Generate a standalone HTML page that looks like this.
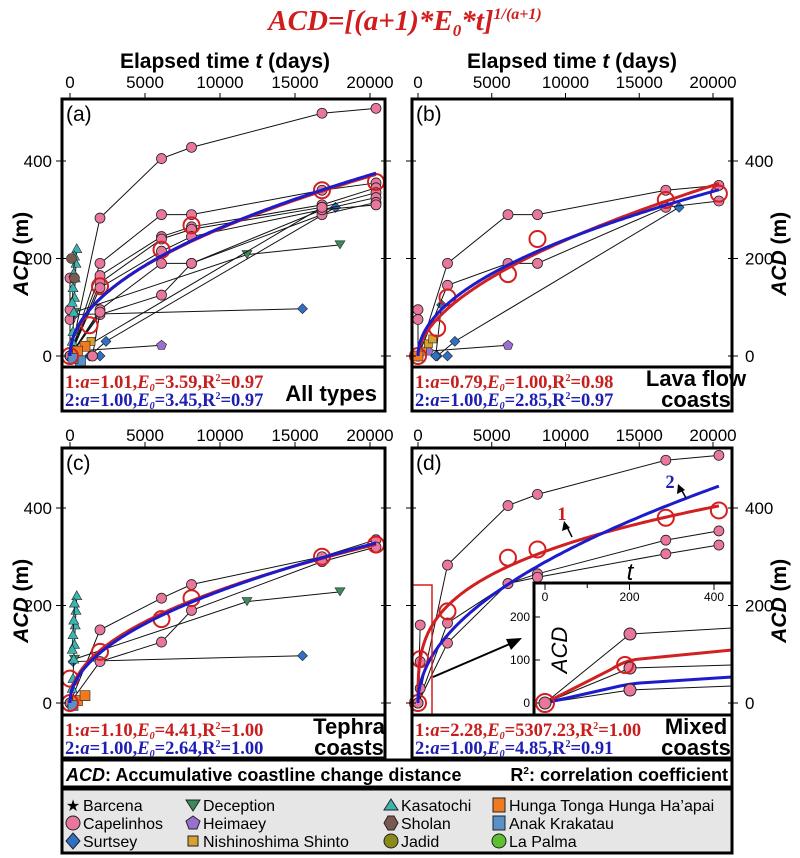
<!DOCTYPE html>
<html><head><meta charset="utf-8"><style>
body{margin:0;background:#fff;width:800px;height:858px;overflow:hidden}
svg{display:block}
text{font-family:"Liberation Sans",sans-serif}
.tk{font-size:17px}
.ser{font-family:"Liberation Serif",serif;font-weight:bold;font-size:18.5px}
</style></head><body>
<svg id="s" width="800" height="858" xmlns="http://www.w3.org/2000/svg">
<text x="405" y="30" text-anchor="middle" fill="#d01c1c" style="font-family:'Liberation Serif',serif;font-weight:bold;font-style:italic;font-size:29px">ACD=[(a+1)*E<tspan font-size="17" dy="6">0</tspan><tspan dy="-6">*t]</tspan><tspan font-size="16" dy="-11">1/(a+1)</tspan></text>
<text x="225" y="68" text-anchor="middle" font-weight="bold" font-size="21">Elapsed time <tspan font-style="italic">t</tspan> (days)</text>
<text x="572" y="68" text-anchor="middle" font-weight="bold" font-size="21">Elapsed time <tspan font-style="italic">t</tspan> (days)</text>
</svg>
<script>
const S=document.getElementById('s');const NS='http://www.w3.org/2000/svg';
function el(n,a,p){const e=document.createElementNS(NS,n);for(const k in a)e.setAttribute(k,a[k]);(p||S).appendChild(e);return e}
function tx(x,y,s,a,p){const e=el('text',Object.assign({x:x,y:y},a||{}),p);e.innerHTML=s;return e}
const P=[
{bx:62,br:385,t0:70,s:0.015,y0:356,top:99,pb:367,ab:411,L:1,lab:'(a)',tl:88},
{bx:412,br:732,t0:418,s:0.01475,y0:356,top:99,pb:367,ab:411,L:0,lab:'(b)',tl:88},
{bx:62,br:385,t0:70,s:0.015,y0:703,top:448,pb:715,ab:758,L:1,lab:'(c)',tl:441},
{bx:412,br:732,t0:418,s:0.01475,y0:703,top:448,pb:715,ab:758,L:0,lab:'(d)',tl:441}];
const T=[0,2000,6100,8100,16800,20400];
const PINK='#e9779c';
function mk(p,t,v,type){const x=p.t0+t*p.s,y=p.y0-v*0.4875;
 if(type=='c')el('circle',{cx:x,cy:y,r:5,fill:PINK,stroke:'#222','stroke-width':0.8});
 else if(type=='o')el('circle',{cx:x,cy:y,r:8,fill:'none',stroke:'#d51f1f','stroke-width':2});
 else if(type=='d')el('polygon',{points:`${x},${y-5} ${x+5},${y} ${x},${y+5} ${x-5},${y}`,fill:'#2f6fc4',stroke:'#222','stroke-width':0.6});
 else if(type=='t')el('polygon',{points:`${x-5},${y-4} ${x+5},${y-4} ${x},${y+4}`,fill:'#3a8a5a',stroke:'#222','stroke-width':0.6});
 else if(type=='k')el('polygon',{points:`${x},${y-5} ${x+5},${y+4} ${x-5},${y+4}`,fill:'#3bb5b0',stroke:'#222','stroke-width':0.6});
 else if(type=='h')el('polygon',{points:`${x},${y-5} ${x+5},${y-1} ${x+3},${y+4} ${x-3},${y+4} ${x-5},${y-1}`,fill:'#9b6fd0',stroke:'#222','stroke-width':0.6});
 else if(type=='s')el('rect',{x:x-4,y:y-4,width:8,height:8,fill:'#d9a030',stroke:'#222','stroke-width':0.6});
 else if(type=='q')el('rect',{x:x-5,y:y-5,width:10,height:10,fill:'#f07a20',stroke:'#222','stroke-width':0.6});
 else if(type=='b')el('rect',{x:x-5,y:y-5,width:10,height:10,fill:'#5a90c8',stroke:'#222','stroke-width':0.6});
 else if(type=='m')el('circle',{cx:x,cy:y,r:5,fill:'#7a5a50',stroke:'#222','stroke-width':0.6});
}
function line(p,pts,type,noline){if(!noline)el('polyline',{points:pts.map(q=>(p.t0+q[0]*p.s)+','+(p.y0-q[1]*0.4875)).join(' '),fill:'none',stroke:'#111','stroke-width':1});
 pts.forEach(q=>mk(p,q[0],q[1],type));}
function cap(p,vals,extra){const pts=[];vals.forEach((v,i)=>{if(v!=null)pts.push([T[i],v])});line(p,(extra||[]).concat(pts),'c');}
function curve(p,a,E,col,w){let d='';for(let i=0;i<=200;i++){const t=20400*Math.pow(i/200,2);const v=Math.pow((a+1)*E*t,1/(a+1));d+=(i?'L':'M')+(p.t0+t*p.s).toFixed(1)+','+(p.y0-v*0.4875).toFixed(1)}
 el('path',{d:d,fill:'none',stroke:col,'stroke-width':w||3});}
function kas(p){line(p,[[100,0],[150,30],[200,50],[250,90],[300,120],[350,160],[400,190],[450,220]],'k');
 line(p,[[150,110],[250,170],[300,205],[200,140]],'k');}
function frame(p,txt1,txt2,cat){
 el('rect',{x:p.bx,y:p.top,width:p.br-p.bx,height:p.ab-p.top,fill:'none',stroke:'#000','stroke-width':3});
 el('line',{x1:p.bx,x2:p.br,y1:p.pb,y2:p.pb,stroke:'#000','stroke-width':3});
 [0,5000,10000,15000,20000].forEach(t=>{const x=p.t0+t*p.s;el('line',{x1:x,x2:x,y1:p.top-6,y2:p.top,stroke:'#000'});tx(x,p.tl,t,{class:'tk','text-anchor':'middle'})});
 [0,200,400].forEach(v=>{const y=p.y0-v*0.4875;
  el('line',{x1:p.bx-6,x2:p.bx+4,y1:y,y2:y,stroke:'#000'});el('line',{x1:p.br-4,x2:p.br+6,y1:y,y2:y,stroke:'#000'});
  if(p.L)tx(52,y+6,v,{class:'tk','text-anchor':'end'});else tx(745,y+6,v,{class:'tk'});});
 const cy=p.y0-230*0.4875+10;
 const ax=p.L?28:786;
 tx(ax,cy,'<tspan font-style="italic">ACD</tspan> (m)',{'font-size':21,'font-weight':'bold','text-anchor':'middle',transform:`rotate(-90 ${ax} ${cy})`});
 tx(p.bx+4,p.top+22,p.lab,{'font-size':21});
 tx(p.bx+3,p.pb+21,txt1,{class:'ser',fill:'#c81e1e'});
 tx(p.bx+3,p.pb+39,txt2,{class:'ser',fill:'#1e1eb4'});
 if(cat.length==1)tx(p.br-8,p.pb+34,cat[0],{'font-size':22,'font-weight':'bold','text-anchor':'end'});
 else{tx(p.br-36,p.pb+19,cat[0],{'font-size':22,'font-weight':'bold','text-anchor':'middle'});tx(p.br-36,p.pb+40,cat[1],{'font-size':22,'font-weight':'bold','text-anchor':'middle'});}
}
const f1=(a,E,r)=>`1:<tspan font-style="italic">a</tspan>=${a},<tspan font-style="italic">E<tspan font-size="10" dy="3">0</tspan></tspan><tspan dy="-3">=${E},R</tspan><tspan font-size="10" dy="-7">2</tspan><tspan dy="7">=${r}</tspan>`;
const f2=(a,E,r)=>`2:<tspan font-style="italic">a</tspan>=${a},<tspan font-style="italic">E<tspan font-size="10" dy="3">0</tspan></tspan><tspan dy="-3">=${E},R</tspan><tspan font-size="10" dy="-7">2</tspan><tspan dy="7">=${r}</tspan>`;

// (a)
let p=P[0];
line(p,[[300,85],[15500,97]],'d');
line(p,[[1300,0],[2400,30],[17700,305]],'d');line(p,[[200,0],[2000,0]],'d');line(p,[[300,10],[6100,22]],'h');
line(p,[[300,90],[11800,208],[18000,228]],'t');
cap(p,[0,283,405,428,498,508]);cap(p,[0,190,290,290,340,355],[[0,160]]);cap(p,[0,165,245,265,310,345]);
cap(p,[0,150,240,260,305,335]);cap(p,[0,140,215,245,300,325],[[0,95]]);cap(p,[0,95,190,190,290,315]);
cap(p,[0,85,125,190,300,310],[[0,75]]);cap(p,[0,null,null,null,305,null],[[1500,0],[2000,90]]);
kas(p);line(p,[[100,200],[300,160]],'m',1);
line(p,[[500,10],[1000,20],[1400,30]],'s');mk(p,1000,20,'q');mk(p,500,10,'q');mk(p,700,-10,'b');mk(p,200,-5,'b');
[[0,0],[1300,63],[2000,143],[6100,218],[8100,268],[16800,340],[20400,357]].forEach(q=>mk(p,q[0],q[1],'o'));
curve(p,1.01,3.59,'#d02020',3);curve(p,1,3.45,'#1c1ccc',3);
frame(p,f1('1.01','3.59','0.97'),f2('1.00','3.45','0.97'),['All types']);
// (b)
p=P[1];
line(p,[[1300,0],[2500,30],[17700,305]],'d');line(p,[[1200,0],[1600,105]],'d');line(p,[[700,10],[6100,22]],'h');mk(p,2000,0,'d');
cap(p,[0,190,290,290,340,350],[[0,95]]);cap(p,[0,145,190,190,305,318],[[0,75]]);
line(p,[[300,10],[700,25],[1000,35]],'s');mk(p,0,0,'q');
[[0,0],[1300,57],[2000,120],[6100,168],[8100,240],[16800,320],[20400,333]].forEach(q=>mk(p,q[0],q[1],'o'));
curve(p,0.79,1.0,'#d02020',3);curve(p,1,2.85,'#1c1ccc',3);
frame(p,f1('0.79','1.00','0.98'),f2('1.00','2.85','0.97'),['Lava flow','coasts']);
// (c)
p=P[2];
line(p,[[200,85],[15500,97]],'d');line(p,[[300,90],[11800,208],[18000,228]],'t');
cap(p,[0,150,215,243,300,335]);cap(p,[0,85,125,190,290,320]);
kas(p);line(p,[[500,5],[1000,15]],'q');mk(p,200,-5,'b');
[[0,0],[0,50],[2000,105],[6100,172],[8100,215],[16800,300],[20400,325]].forEach(q=>mk(p,q[0],q[1],'o'));
curve(p,1.10,4.41,'#d02020',3);curve(p,1,2.64,'#1c1ccc',3);
frame(p,f1('1.10','4.41','1.00'),f2('1.00','2.64','1.00'),['Tephra','coasts']);
// (d)
p=P[3];
cap(p,[0,283,405,428,498,508],[[0,0],[150,160]]);cap(p,[0,164,245,265,334,353],[[150,85]]);cap(p,[0,123,245,258,306,324],[[150,30]]);
[[0,0],[150,90],[2000,188],[6100,298],[8100,315],[16800,380],[20400,395]].forEach(q=>mk(p,q[0],q[1],'o'));
curve(p,2.28,5307.23,'#d02020',3);curve(p,1,4.85,'#1c1ccc',3);
el('rect',{x:412,y:585,width:20,height:130,fill:'none',stroke:'#d02020','stroke-width':1.5});
// inset
el('rect',{x:534,y:583,width:198,height:132,fill:'#fff',stroke:'#000','stroke-width':3});
const IX=t=>545+t*0.4225,IY=v=>703-v*0.43;
[0,200,400].forEach(t=>{el('line',{x1:IX(t),x2:IX(t),y1:583,y2:590,stroke:'#000'});tx(IX(t),601,t,{'font-size':12,'text-anchor':'middle'})});
[100].forEach(t=>el('line',{x1:IX(t),x2:IX(t),y1:583,y2:588,stroke:'#000'}));
[0,100,200].forEach(v=>{el('line',{x1:534,x2:540,y1:IY(v),y2:IY(v),stroke:'#000'});tx(530,IY(v)+4,v,{'font-size':12,'text-anchor':'end'})});
el('polyline',{points:'545,703 630,634 732,628',fill:'none',stroke:'#111'});
el('polyline',{points:'545,703 630,668 732,665',fill:'none',stroke:'#111'});
el('polyline',{points:'545,703 630,690 732,686',fill:'none',stroke:'#111'});
el('path',{d:'M545,703 L610,670 Q625,660 640,659 L732,650',fill:'none',stroke:'#d02020','stroke-width':3});
el('path',{d:'M545,703 L620,686 Q630,684 640,683 L732,677',fill:'none',stroke:'#1c1ccc','stroke-width':3});
[[630,634],[630,668],[630,690],[545,703]].forEach(q=>el('circle',{cx:q[0],cy:q[1],r:6,fill:PINK,stroke:'#222'}));
el('circle',{cx:625,cy:665,r:8,fill:'none',stroke:'#d51f1f','stroke-width':2});el('circle',{cx:545,cy:703,r:9,fill:'none',stroke:'#d51f1f','stroke-width':2});
tx(552,665,'ACD',{'font-size':22,'font-style':'italic','text-anchor':'middle',transform:'rotate(-90 552 650)'});
tx(630,580,'t',{'font-size':24,'font-style':'italic','text-anchor':'middle'});
el('line',{x1:433,y1:677,x2:512,y2:643,stroke:'#000','stroke-width':2});el('polygon',{points:'522,638 506,639 511,650'});
tx(562,520,'1',{class:'ser','font-size':24,fill:'#c81e1e','text-anchor':'middle'});
el('line',{x1:572,y1:537,x2:567,y2:527,stroke:'#000','stroke-width':1.5});el('polygon',{points:'564,521 562,531 570,528'});
tx(670,488,'2',{class:'ser','font-size':24,fill:'#1e1eb4','text-anchor':'middle'});
el('line',{x1:686,y1:498,x2:681,y2:489,stroke:'#000','stroke-width':1.5});el('polygon',{points:'678,484 677,494 685,490'});
frame(p,f1('2.28','5307.23','1.00'),f2('1.00','4.85','0.91'),['Mixed','coasts']);
// bottom boxes
el('rect',{x:62,y:760,width:670,height:27,fill:'#fff',stroke:'#000','stroke-width':3});
tx(66,781,'<tspan font-style="italic">ACD</tspan>: Accumulative coastline change distance',{'font-size':18,'font-weight':'bold'});
tx(728,781,'R<tspan font-size="10" dy="-7">2</tspan><tspan dy="7">: correlation coefficient</tspan>',{'font-size':18,'font-weight':'bold','text-anchor':'end'});
el('rect',{x:62,y:789,width:670,height:64,fill:'#e6e6e6',stroke:'#000','stroke-width':3});
const LG=[[66,'Barcena','star'],[66,'Capelinhos','c'],[66,'Surtsey','d'],[186,'Deception','t'],[186,'Heimaey','h'],[186,'Nishinoshima Shinto','s'],[384,'Kasatochi','k'],[384,'Sholan','m'],[384,'Jadid','j'],[492,'Hunga Tonga Hunga Ha’apai','q'],[492,'Anak Krakatau','b'],[492,'La Palma','g']];
LG.forEach((l,i)=>{const y=[805,823,841][i%3];const x=l[0]+7;
 const t=l[2];
 if(t=='star')tx(x,y+6,'★',{'font-size':16,'text-anchor':'middle'});
 else if(t=='c')el('circle',{cx:x,cy:y,r:7,fill:PINK,stroke:'#222'});
 else if(t=='d')el('polygon',{points:`${x},${y-8} ${x+7},${y} ${x},${y+8} ${x-7},${y}`,fill:'#2f6fc4',stroke:'#222'});
 else if(t=='t')el('polygon',{points:`${x-7},${y-5} ${x+7},${y-5} ${x},${y+6}`,fill:'#3a8a5a',stroke:'#222'});
 else if(t=='k')el('polygon',{points:`${x},${y-6} ${x+7},${y+5} ${x-7},${y+5}`,fill:'#3bb5b0',stroke:'#222'});
 else if(t=='h')el('polygon',{points:`${x},${y-7} ${x+7},${y-2} ${x+4},${y+6} ${x-4},${y+6} ${x-7},${y-2}`,fill:'#9b6fd0',stroke:'#222'});
 else if(t=='s')el('rect',{x:x-5,y:y-5,width:10,height:10,fill:'#d9a030',stroke:'#222'});
 else if(t=='m')el('polygon',{points:`${x-3},${y-7} ${x+3},${y-7} ${x+7},${y} ${x+3},${y+7} ${x-3},${y+7} ${x-7},${y}`,fill:'#7a5a50',stroke:'#222'});
 else if(t=='j')el('circle',{cx:x,cy:y,r:7,fill:'#8a8a18',stroke:'#222'});
 else if(t=='q')el('rect',{x:x-6,y:y-7,width:12,height:14,fill:'#f07a20',stroke:'#222'});
 else if(t=='b')el('rect',{x:x-6,y:y-7,width:12,height:14,fill:'#5a90c8',stroke:'#222'});
 else if(t=='g')el('circle',{cx:x,cy:y,r:7,fill:'#5cc030',stroke:'#222'});
 tx(l[0]+17,y+6,l[1],{'font-size':16});
});
</script>
</body></html>
